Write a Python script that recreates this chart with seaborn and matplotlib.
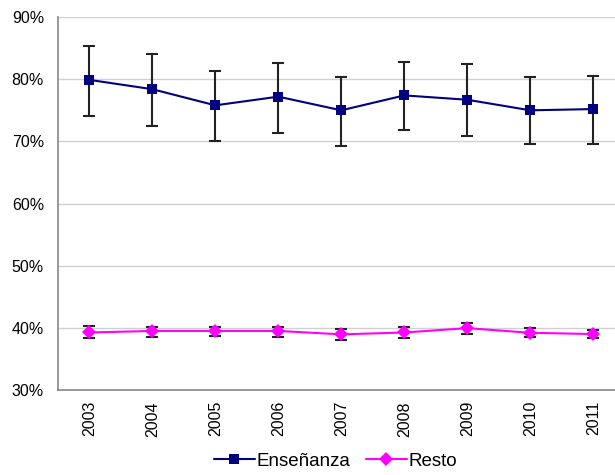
import numpy as np
import pandas as pd
import matplotlib
matplotlib.use('Agg')
import matplotlib.pyplot as plt
import seaborn as sns
from matplotlib.ticker import FixedLocator, PercentFormatter

# Data (in %)
years = ['2003', '2004', '2005', '2006', '2007', '2008', '2009', '2010', '2011']
ensenanza = [79.9, 78.4, 75.8, 77.2, 75.0, 77.4, 76.7, 75.0, 75.2]
ens_low = [74.1, 72.4, 70.0, 71.4, 69.3, 71.9, 70.9, 69.5, 69.5]
ens_high = [85.3, 84.0, 81.4, 82.6, 80.4, 82.8, 82.4, 80.4, 80.6]
resto = [39.25, 39.5, 39.5, 39.5, 38.95, 39.25, 39.95, 39.2, 39.0]
resto_low = [38.3, 38.5, 38.7, 38.6, 38.1, 38.4, 39.0, 38.5, 38.3]
resto_high = [40.3, 40.2, 40.2, 40.2, 39.8, 40.1, 40.7, 39.9, 39.7]

sns.set_style('white')
plt.rcParams['font.family'] = ['Liberation Sans', 'DejaVu Sans']
plt.rcParams['text.color'] = 'black'
plt.rcParams['xtick.color'] = 'black'
plt.rcParams['ytick.color'] = 'black'

df = pd.DataFrame({
    'pos': list(range(len(years))) * 2,
    'valor': ensenanza + resto,
    'serie': ['Enseñanza'] * len(years) + ['Resto'] * len(years),
})

fig = plt.figure(figsize=(6.15, 4.75), dpi=100)
ax = fig.add_axes([0.094, 0.179, 0.922, 0.785])

# error bars first so the markers sit on top
x = np.arange(len(years))
ax.errorbar(x, ensenanza,
            yerr=[np.array(ensenanza) - ens_low, np.array(ens_high) - ensenanza],
            fmt='none', ecolor='#222222', elinewidth=1.5, capsize=4.5, capthick=1.5, zorder=2)
ax.errorbar(x, resto,
            yerr=[np.array(resto) - resto_low, np.array(resto_high) - resto],
            fmt='none', ecolor='#222222', elinewidth=1.5, capsize=4.5, capthick=1.5, zorder=2)

sns.lineplot(data=df, x='pos', y='valor', hue='serie', style='serie',
             palette={'Enseñanza': '#000080', 'Resto': '#FF00FF'},
             markers={'Enseñanza': 's', 'Resto': 'D'}, dashes=False,
             markersize=7, linewidth=1.5, markeredgewidth=0, ax=ax, zorder=3)

ax.set_xlim(-0.5, len(years) - 0.5)
ax.set_ylim(30, 90)
ax.set_yticks(range(30, 91, 10))
ax.yaxis.set_major_formatter(PercentFormatter(decimals=0))
ax.yaxis.grid(True, color='#d0d0d0', linewidth=1.0)

# Excel-style category axis: ticks between categories, labels at centres
ax.xaxis.set_major_locator(FixedLocator(np.arange(-0.5, len(years), 1.0)))
ax.xaxis.set_minor_locator(FixedLocator(x))
ax.set_xticklabels([], minor=False)
ax.set_xticklabels(years, minor=True, rotation=90)
ax.tick_params(axis='x', which='major', length=5, color='#888888', direction='out')
ax.tick_params(axis='x', which='minor', length=0, pad=8, labelsize=11.5)
ax.tick_params(axis='y', length=5, color='#888888', labelcolor='black', direction='out',
               labelsize=11.5, pad=5)
ax.set_xlabel('')
ax.set_ylabel('')

for side in ['top', 'right']:
    ax.spines[side].set_visible(False)
for side in ['left', 'bottom']:
    ax.spines[side].set_color('#888888')
    ax.spines[side].set_linewidth(1.2)

leg = ax.legend(loc='lower center', bbox_to_anchor=(0.49, -0.26), ncol=2, frameon=False,
                fontsize=13.5, handlelength=2.2, handletextpad=0.1, columnspacing=0.8)
leg.set_title(None)

fig.savefig('out.png', dpi=100)
